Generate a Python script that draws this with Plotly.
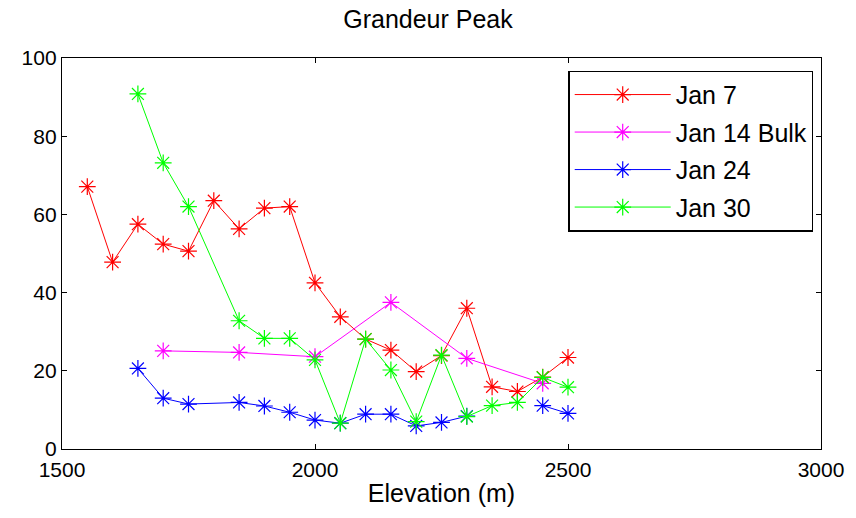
import plotly.graph_objects as go

title = "Grandeur Peak"
x_label = "Elevation (m)"

elev_jan7 = [1550, 1600, 1650, 1700, 1750, 1800, 1850, 1900, 1950, 2000,
             2050, 2100, 2150, 2200, 2250, 2300, 2350, 2400, 2450, 2500]
jan7 = [67.1, 47.8, 57.5, 52.4, 50.6, 63.5, 56.3, 61.6, 62.0, 42.5,
        33.8, 28.1, 25.3, 19.8, 23.9, 36.0, 15.9, 14.7, 18.4, 23.4]

elev_jan14 = [1700, 1850, 2000, 2150, 2300, 2450]
jan14 = [25.1, 24.7, 23.6, 37.5, 23.2, 16.8]

elev_jan24 = [1650, 1700, 1750, 1850, 1900, 1950, 2000, 2050, 2100, 2150,
              2200, 2250, 2300, 2350, 2400, 2450, 2500]
jan24 = [20.6, 13.0, 11.5, 11.9, 11.0, 9.4, 7.4, 6.6, 8.9, 8.9,
         5.9, 6.8, 8.4, None, None, 11.1, 9.1]

elev_jan30 = [1650, 1700, 1750, 1850, 1900, 1950, 2000, 2050, 2100, 2150,
              2200, 2250, 2300, 2350, 2400, 2450, 2500]
jan30 = [90.8, 73.2, 62.0, 32.8, 28.3, 28.3, 22.8, 6.6, 28.1, 20.2,
         7.0, 24.0, 8.3, 11.1, 11.9, 18.3, 15.8]

series = [
    ("Jan 7", elev_jan7, jan7, "#ff0000"),
    ("Jan 14 Bulk", elev_jan14, jan14, "#ff00ff"),
    ("Jan 24", elev_jan24, jan24, "#0000ff"),
    ("Jan 30", elev_jan30, jan30, "#00ff00"),
]

font = "Liberation Sans, Arial, sans-serif"

fig = go.Figure()
for i, (name, xs, ys, col) in enumerate(series):
    fig.add_trace(go.Scatter(
        x=xs, y=ys, name=name, mode="lines+markers",
        legendgroup=f"g{i}",
        line=dict(color=col, width=1),
        marker=dict(symbol="asterisk-open", size=14,
                    line=dict(color=col, width=1.2), color=col),
        connectgaps=False,
    ))

axis_common = dict(
    showline=True, linecolor="black", linewidth=1.3, mirror="ticks",
    ticks="inside", ticklen=5, tickcolor="black", tickwidth=1,
    showgrid=False, zeroline=False,
    tickfont=dict(family=font, size=21, color="black"),
)

fig.update_layout(
    width=856, height=518,
    margin=dict(l=62, r=28, t=58, b=69),
    paper_bgcolor="white", plot_bgcolor="white",
    title=dict(text=title, x=0.5, xanchor="center", y=0.962, yanchor="middle",
               font=dict(family=font, size=25, color="black")),
    xaxis=dict(range=[1500, 3000], tickvals=[1500, 2000, 2500, 3000],
               ticklabelstandoff=2,
               title=dict(text=x_label, standoff=4,
                          font=dict(family=font, size=25, color="black")),
               **axis_common),
    yaxis=dict(range=[0, 100], tickvals=[0, 20, 40, 60, 80, 100],
               **axis_common),
    showlegend=True,
    legend=dict(x=0.99, xanchor="right", y=0.968, yanchor="top",
                bgcolor="white", bordercolor="black", borderwidth=1.3,
                font=dict(family=font, size=25, color="black"),
                tracegroupgap=2, itemwidth=96),
)

fig.write_html("out.html")
